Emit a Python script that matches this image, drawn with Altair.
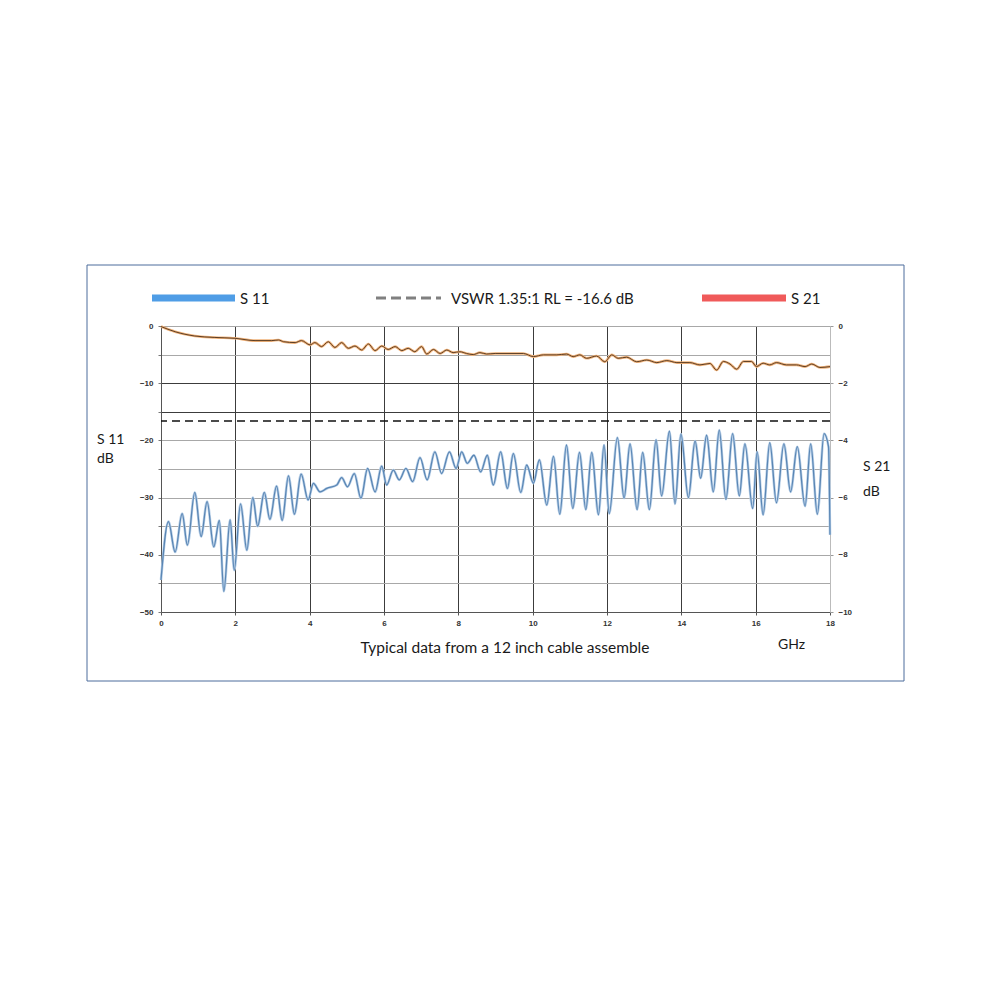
import altair as alt
import pandas as pd

# ---------------- data ----------------
s11_f = [0.0, 0.2, 0.38, 0.57, 0.71, 0.91, 1.08, 1.24, 1.42, 1.57, 1.69, 1.86, 1.97, 2.14, 2.31,
         2.47, 2.60, 2.78, 2.93, 3.11, 3.26, 3.43, 3.59, 3.77, 3.96, 4.10, 4.28, 4.46, 4.73, 4.86,
         5.02, 5.20, 5.38, 5.56, 5.76, 5.94, 6.07, 6.25, 6.41, 6.59, 6.77, 6.97, 7.16, 7.37, 7.55,
         7.76, 7.94, 8.09, 8.24, 8.42, 8.60, 8.78, 8.94, 9.14, 9.32, 9.48, 9.68, 9.84, 10.02, 10.18,
         10.38, 10.56, 10.73, 10.91, 11.08, 11.26, 11.43, 11.59, 11.77, 11.92, 12.06, 12.28, 12.46,
         12.62, 12.81, 12.96, 13.14, 13.32, 13.47, 13.68, 13.83, 13.99, 14.19, 14.37, 14.52, 14.68,
         14.86, 15.02, 15.20, 15.38, 15.56, 15.71, 15.92, 16.04, 16.20, 16.38, 16.56, 16.76, 16.94,
         17.12, 17.33, 17.48, 17.66, 17.84, 17.96, 18.0]
s11_db = [-44.4, -34.2, -39.5, -32.8, -38.3, -29.1, -36.8, -30.7, -38.6, -34.0, -46.4, -33.9, -42.7,
          -31.1, -39.2, -30.0, -35.0, -29.1, -33.8, -28.0, -34.0, -26.2, -32.9, -25.9, -30.4, -27.5,
          -29.0, -28.4, -27.8, -26.5, -28.1, -25.8, -30.1, -24.9, -29.0, -24.5, -27.8, -25.2, -26.9,
          -24.9, -27.2, -23.0, -26.9, -22.0, -25.8, -22.0, -24.9, -22.0, -24.0, -22.6, -25.5, -22.6,
          -27.8, -22.0, -28.4, -22.3, -29.1, -24.3, -27.5, -23.4, -31.3, -22.8, -32.9, -20.8, -31.9,
          -22.1, -32.1, -22.1, -33.0, -20.8, -32.8, -19.5, -30.1, -20.6, -32.1, -22.1, -32.1, -19.9,
          -29.7, -18.4, -31.1, -18.9, -30.0, -20.1, -26.6, -19.1, -29.0, -18.2, -30.3, -18.8, -29.7,
          -20.6, -31.9, -22.0, -33.0, -20.4, -30.9, -20.6, -29.0, -21.1, -31.5, -20.6, -32.9, -18.8,
          -21.1, -36.5]

s21_f = [0.0, 0.38, 0.91, 1.45, 1.99, 2.53, 2.98, 3.16, 3.30, 3.61, 3.78, 4.01, 4.14, 4.32, 4.50,
         4.68, 4.86, 5.04, 5.22, 5.40, 5.58, 5.76, 5.94, 6.11, 6.30, 6.48, 6.65, 6.83, 7.01, 7.15,
         7.33, 7.51, 7.69, 7.86, 8.04, 8.22, 8.40, 8.58, 8.76, 8.99, 9.75, 10.02, 10.29, 10.65, 10.91,
         11.09, 11.27, 11.45, 11.72, 11.94, 12.13, 12.30, 12.53, 12.80, 13.07, 13.34, 13.61, 13.88,
         14.23, 14.50, 14.77, 14.95, 15.13, 15.31, 15.49, 15.67, 15.89, 16.02, 16.20, 16.38, 16.56,
         16.83, 17.10, 17.33, 17.51, 17.73, 18.0]
s21_db = [-0.02, -0.2, -0.35, -0.40, -0.43, -0.51, -0.51, -0.49, -0.55, -0.58, -0.51, -0.66, -0.58,
          -0.72, -0.55, -0.75, -0.58, -0.78, -0.70, -0.84, -0.63, -0.86, -0.70, -0.82, -0.72, -0.86,
          -0.78, -0.90, -0.72, -0.98, -0.82, -0.96, -0.84, -0.93, -0.90, -0.96, -1.00, -0.93, -0.98,
          -0.96, -0.96, -1.07, -1.01, -1.01, -0.98, -1.07, -1.01, -1.13, -1.05, -1.25, -1.01, -1.13,
          -1.09, -1.25, -1.19, -1.28, -1.21, -1.28, -1.28, -1.36, -1.31, -1.54, -1.24, -1.33, -1.51,
          -1.24, -1.24, -1.42, -1.30, -1.36, -1.28, -1.36, -1.36, -1.42, -1.33, -1.45, -1.42]

vswr_rl = [-16.6]
x_ticks = [0, 2, 4, 6, 8, 10, 12, 14, 16, 18]
left_ticks = [0, -5, -10, -15, -20, -25, -30, -35, -40, -45, -50]
right_ticks = [0, -2, -4, -6, -8, -10]

legend_s11 = "S 11"
legend_vswr = "VSWR 1.35:1 RL = -16.6 dB"
legend_s21 = "S 21"
caption = "Typical data from a 12 inch cable assemble"
unit = "GHz"

# ---------------- chart ----------------
W, H = 669, 286
TXT = "Lato"
LBL = "Liberation Sans"

s11 = pd.DataFrame({"f": s11_f, "db": s11_db})
s21 = pd.DataFrame({"f": s21_f, "db": s21_db})

x_scale = alt.Scale(domain=[0, 18], nice=False, zero=False)
y_left = alt.Scale(domain=[-50, 0], nice=False)
y_right = alt.Scale(domain=[-10, 0], nice=False)

x_axis = alt.Axis(
    values=x_ticks, title=None, grid=True, labelFlush=False,
    gridColor={"condition": {"test": "datum.value == 18", "value": "#c0c0c0"}, "value": "#3c3c3c"},
    gridWidth=1, labelFont=LBL, labelFontSize=8, labelFontWeight="bold", labelColor="#333333",
    domainColor="#555555", tickColor="#555555", tickSize=3, labelPadding=4,
)
left_axis = alt.Axis(
    values=left_ticks, title=None, grid=True, labelFlush=False,
    labelExpr="datum.value % 10 == 0 ? datum.label : ''",
    gridColor={"condition": {"test": "datum.value == -10 || datum.value == -15", "value": "#3c3c3c"},
               "value": "#a8a8a8"},
    gridWidth=1, labelFont=LBL, labelFontSize=8, labelFontWeight="bold", labelColor="#333333",
    domainColor="#555555", tickColor="#777777", tickSize=3, labelPadding=5,
)
right_axis = alt.Axis(
    values=right_ticks, title=None, grid=False, orient="right", labelFlush=False,
    labelFont=LBL, labelFontSize=8, labelFontWeight="bold", labelColor="#333333",
    domainColor="#bbbbbb", tickColor="#999999", tickSize=3, labelPadding=5,
)

X = alt.X("f:Q", scale=x_scale, axis=x_axis)

s11_halo = alt.Chart(s11).mark_line(color="#b9d0e8", strokeWidth=2.6, interpolate="monotone").encode(
    x=X, y=alt.Y("db:Q", scale=y_left, axis=left_axis),
)
s11_line = alt.Chart(s11).mark_line(color="#5a86b4", strokeWidth=1.3, interpolate="monotone").encode(
    x=X, y=alt.Y("db:Q", scale=y_left, axis=left_axis),
)
vswr_rule = alt.Chart(pd.DataFrame({"v": vswr_rl})).mark_rule(
    color="#111111", strokeDash=[8, 5], strokeWidth=1.5
).encode(y=alt.Y("v:Q", scale=y_left, axis=left_axis))

left_group = alt.layer(s11_halo, s11_line, vswr_rule)

s21_halo = alt.Chart(s21).mark_line(color="#f0b27a", strokeWidth=2.6, interpolate="monotone").encode(
    x=X, y=alt.Y("db:Q", scale=y_right, axis=right_axis),
)
s21_line = alt.Chart(s21).mark_line(color="#5e3f24", strokeWidth=1.0, interpolate="monotone").encode(
    x=X, y=alt.Y("db:Q", scale=y_right, axis=right_axis),
)
right_group = alt.layer(s21_halo, s21_line)

plot = alt.layer(left_group, right_group).resolve_scale(y="independent")

one = pd.DataFrame({"k": [0]})


def text(t, x, y, size=14, align="left", color="#1a1a1a"):
    return alt.Chart(one).mark_text(
        font=TXT, fontSize=size, align=align, baseline="middle", color=color
    ).encode(x=alt.value(x), y=alt.value(y), text=alt.value(t))


def bar(x1, x2, y, color, width, dash=None):
    kw = dict(color=color, strokeWidth=width)
    if dash:
        kw["strokeDash"] = dash
    return alt.Chart(one).mark_rule(**kw).encode(x=alt.value(x1), x2=alt.value(x2), y=alt.value(y))


border = alt.Chart(one).mark_rect(filled=False, stroke="#4d6c9c", strokeWidth=1).encode(
    x=alt.value(-74), x2=alt.value(743), y=alt.value(-61), y2=alt.value(355)
)

annotations = [
    border,
    bar(-9, 74, -28, "#4f9de6", 7),
    text(legend_s11, 79, -27, 15),
    bar(215, 280, -28, "#808080", 3, [10, 5]),
    text(legend_vswr, 290, -27, 15),
    bar(541, 625, -28, "#f05a5a", 7),
    text(legend_s21, 630, -27, 15),
    text("S 11", -64, 114, 14),
    text("dB", -64, 133, 14),
    text("S 21", 702, 141, 14),
    text("dB", 702, 166, 14),
    text(caption, 344, 322, 15.5, align="center"),
    text(unit, 617, 319, 14),
]

chart = alt.layer(plot, *annotations).properties(
    width=W, height=H,
    padding={"left": 153, "top": 318, "right": 162, "bottom": 380},
    autosize="none",
).configure_view(stroke=None).configure(background="white")

chart.save("out.html", embed_options={"renderer": "svg", "actions": False})
